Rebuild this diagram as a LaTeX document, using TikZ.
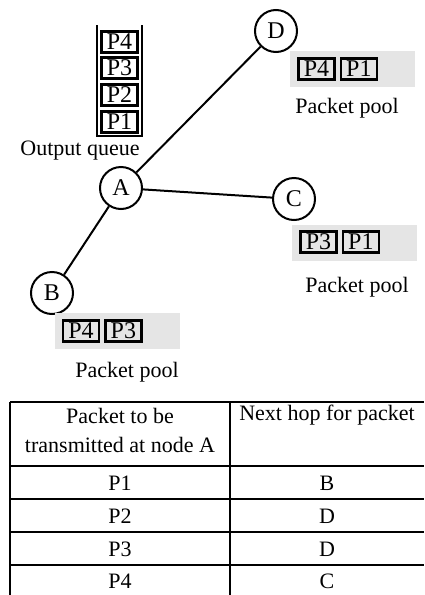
\documentclass[tikz,border=0pt]{standalone}
\usepackage{fontspec}
\setmainfont{Liberation Serif}
\usetikzlibrary{positioning}

\begin{document}
\begin{tikzpicture}[x=0.5pt, y=-0.5pt, line width=1pt, font=\fontsize{11}{13}\selectfont,
    main/.style = {draw, circle, minimum size=21pt, inner sep=0pt, font=\fontsize{12}{12}\selectfont},
    pkt/.style = {draw, line width=1.2pt, minimum width=18pt, minimum height=10.5pt, inner sep=0.5pt, font=\fontsize{12}{12}\selectfont},
    pool/.style = {fill=black!10},
    cell/.style = {align=center, font=\fontsize{11}{14.5}\selectfont}]
    \useasboundingbox (0,0) rectangle (424,595);
    % nodes and links
    \node[main] (A) at (121,188) {A};
    \node[main] (B) at (52,293) {B};
    \node[main] (C) at (294,199) {C};
    \node[main] (D) at (276,31) {D};
    \draw (A) -- (D);
    \draw (A) -- (C);
    \draw (A) -- (B);
    % output queue at A
    \draw (97,25) -- (97,136) -- (142,136) -- (142,25);
    \foreach \p/\y in {4/42, 3/68, 2/95, 1/122}
        \node[pkt] (q\p) at (119.5,\y) {P\p};
    \node (oq) at (80,151) {Output queue};
    % packet pool at D
    \fill[pool] (290,51) rectangle (415,87);
    \node[pkt] (d4) at (316.5,69) {P4};
    \node[pkt, right=2pt of d4] (d1) {P1};
    \node (dp) at (347,108) {Packet pool};
    % packet pool at C
    \fill[pool] (292,225) rectangle (417,261);
    \node[pkt] (c3) at (318.5,242) {P3};
    \node[pkt, right=2pt of c3] (c1) {P1};
    \node (cp) at (357,287) {Packet pool};
    % packet pool at B
    \fill[pool] (55,313) rectangle (180,349);
    \node[pkt] (b4) at (81,331) {P4};
    \node[pkt, right=2pt of b4] (b3) {P3};
    \node (bp) at (127,372) {Packet pool};
    % forwarding table
    \foreach \y in {402,466,499,532,565}
        \draw (10,\y) -- (424,\y);
    \draw (10,402) -- (10,595);
    \draw (230,402) -- (230,595);
    \node[cell] (h1) at (120,430) {Packet to be\\transmitted at node A};
    \node[cell] (h2) at (327,415) {Next hop for packet};
    \foreach \p/\n/\y in {1/B/483, 2/D/516, 3/D/549, 4/C/581} {
        \node (r\p) at (120,\y) {P\p};
        \node (n\p) at (327,\y) {\n};
    }
\end{tikzpicture}
\end{document}
